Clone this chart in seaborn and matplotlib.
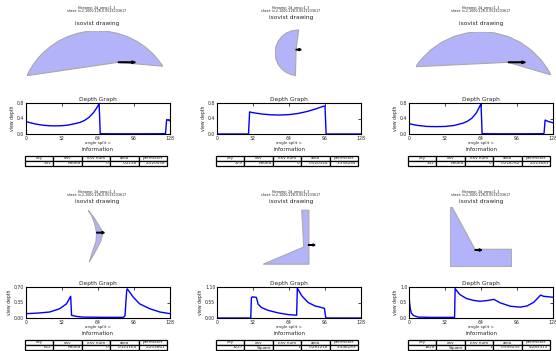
import matplotlib
matplotlib.use("Agg")
import matplotlib.pyplot as plt
import seaborn as sns
import pandas as pd

sns.set_style("white")
plt.rcParams["font.family"] = ["DejaVu Sans"]

W, H = 556, 351

# ---------------- data ----------------
header1 = "filename: 2d_area=1_3"
header2 = "sheet: iv-2-1000-128-0.0522233617"

table_cols = ["key", "env", "env num", "area", "perimeter"]
table_rows = [
    ["331", "Round", "0", "0.2138", "2.520558"],
    ["379", "Round", "0", "0.520324", "3.358284"],
    ["332", "Round", "0", "0.218762", "2.513681"],
    ["612", "Round", "0", "0.121164", "2.203861"],
    ["1227", "Square", "1", "0.281218", "2.548289"],
    ["1828", "Square", "1", "0.595235", "4.245313"],
]

xticks = [0, 32, 64, 96, 128]
yticks_list = [
    ["0.0", "0.4", "0.8"],
    ["0.0", "0.4", "0.8"],
    ["0.0", "0.4", "0.8"],
    ["0.00", "0.35", "0.70"],
    ["0.00", "0.55", "1.10"],
    ["0.0", "0.5", "1.0"],
]

depth1_x = [0, 4, 8, 12, 16, 20, 24, 28, 32, 36, 40, 44, 48, 52, 56, 60, 63, 65, 66, 80, 100, 124, 125, 128]
depth1_y = [0.32, 0.29, 0.26, 0.24, 0.225, 0.215, 0.21, 0.21, 0.215, 0.225, 0.245, 0.27, 0.30, 0.35, 0.43, 0.55, 0.68, 0.78, 0.008, 0.005, 0.005, 0.008, 0.37, 0.34]

depth2_x = [0, 28, 29, 32, 40, 48, 56, 64, 72, 80, 88, 95, 96, 97, 128]
depth2_y = [0.0, 0.0, 0.57, 0.55, 0.515, 0.495, 0.49, 0.50, 0.53, 0.58, 0.65, 0.72, 0.72, 0.0, 0.0]

depth3_x = [0, 4, 8, 16, 24, 32, 40, 48, 52, 56, 60, 63, 64, 65, 80, 100, 120, 121, 124, 128]
depth3_y = [0.27, 0.24, 0.22, 0.195, 0.19, 0.195, 0.22, 0.28, 0.33, 0.41, 0.55, 0.72, 0.78, 0.008, 0.005, 0.005, 0.008, 0.36, 0.32, 0.29]

depth4_x = [0, 10, 21, 30, 36, 39.7, 40.5, 45, 51, 70, 86.5, 88, 89.5, 90, 95.4, 101, 110, 119, 128]
depth4_y = [0.098, 0.11, 0.135, 0.21, 0.32, 0.49, 0.06, 0.035, 0.02, 0.015, 0.015, 0.05, 0.62, 0.66, 0.47, 0.32, 0.21, 0.135, 0.098]

depth5_x = [0, 30, 30.6, 31.5, 35, 36.6, 39.6, 45.5, 54.5, 63.4, 70.8, 71.4, 75.3, 81, 87, 93, 95.5, 96.7, 128]
depth5_y = [0.0, 0.0, 0.72, 0.75, 0.73, 0.49, 0.37, 0.27, 0.18, 0.12, 0.10, 1.06, 0.79, 0.55, 0.43, 0.37, 0.34, 0.0, 0.0]

depth6_x = [0, 1, 2, 4, 8, 20, 40.5, 41, 45, 51, 57, 63, 69, 75.6, 81, 90, 99, 105, 111, 117, 119.6, 128]
depth6_y = [0.70, 0.33, 0.16, 0.08, 0.03, 0.02, 0.02, 0.95, 0.76, 0.63, 0.57, 0.54, 0.56, 0.60, 0.49, 0.38, 0.35, 0.39, 0.51, 0.74, 0.70, 0.67]

depth_x = [depth1_x, depth2_x, depth3_x, depth4_x, depth5_x, depth6_x]
depth_y = [depth1_y, depth2_y, depth3_y, depth4_y, depth5_y, depth6_y]
ymax_list = [0.8, 0.8, 0.8, 0.70, 1.10, 1.0]

# isovist polygons: vertices relative to the viewpoint (y up)
iso1_x = [-91.4, -88.3, -84.6, -80.5, -75.9, -68.2, -59.75, -50.6, -41, -31, -20.8, -10.6, -0.6, 9, 18.15, 26.7, 34.3, 39.7, 44.5, 0]
iso1_y = [-13.4, -7.35, -1.6, 3.8, 8.8, 15.5, 21.2, 25.7, 28.9, 30.9, 31.6, 30.9, 28.9, 25.7, 21.2, 15.5, 8.8, 2.7, -3.9, 0]
iso2_x = [2.9, -4.55, -10.65, -15.9, -19.9, -22.4, -23.3, -22.4, -19.9, -15.9, -10.65, -4.55, -0.65, 0]
iso2_y = [21.8, 20.9, 18.4, 14.4, 9.15, 3.05, -3.5, -10.05, -16.15, -21.4, -25.4, -27.9, -28.7, 0]
iso3_x = [-92.6, -87.4, -77.7, -66.55, -54.2, -41.0, -27.4, -13.8, -0.6, 11.75, 22.9, 32.6, 39.0, 42.7, 0]
iso3_y = [-4.4, 2.6, 12.3, 20.1, 25.9, 29.4, 30.6, 29.4, 25.9, 20.1, 12.3, 2.6, -6.2, -12.7, 0]
iso4_x = [-9, -2.3, 2.7, 7, 4.4, -0.6, -8, -4, -0.6, 0, -2.3, -5.6]
iso4_y = [24, 15.6, 7.3, 0, -9.4, -19.4, -32, -19.4, -9.4, 0, 10.6, 19]
iso5_x = [-7.6, 0.5, 0.5, -51, -5.3]
iso5_y = [39.3, 39.3, -21.7, -21.7, -2.3]
iso6_x = [-25, -23, 0, 36.7, 36.7, -25]
iso6_y = [43.3, 43, 0.7, 0.7, -16.7, -16.7]
iso_x = [iso1_x, iso2_x, iso3_x, iso4_x, iso5_x, iso6_x]
iso_y = [iso1_y, iso2_y, iso3_y, iso4_y, iso5_y, iso6_y]
arrow_len = [17, 5.7, 17, 8.4, 7.4, 6.7]

# ---------------- layout (pixels) ----------------
col_left = [26, 217, 409]
col_center = [97, 291, 481]
row_off = [0, 184]
iso_rect = [  # l, t, r, b
    (26.9, 30.7, 162.8, 75.7), (275.0, 27.5, 301.2, 78.0), (415.7, 31.7, 551, 75),
    (88.3, 208.3, 104.3, 264.3), (263.3, 206.7, 315, 267.7), (450, 206.7, 511.7, 266.7),
]
iso_title_y = [23, 18, 23, 202, 202, 202]


def px_rect(l, t, r, b):
    return [l / W, 1 - b / H, (r - l) / W, (b - t) / H]


fig = plt.figure(figsize=(W / 100, H / 100), dpi=100)

for i in range(6):
    r, c = divmod(i, 3)
    off = row_off[r]
    cx = col_center[c]
    left = col_left[c]

    # headers
    fig.text(cx / W, 1 - (7 + off) / H, header1, ha="center", va="center", fontsize=2.3)
    fig.text(cx / W, 1 - (11 + off) / H, header2, ha="center", va="center", fontsize=2.3)
    fig.text(cx / W, 1 - iso_title_y[i] / H, "isovist drawing", ha="center", va="center", fontsize=4.2)

    # isovist drawing
    l, t, rr, b = iso_rect[i]
    ia = fig.add_axes(px_rect(l, t, rr, b))
    ia.fill(iso_x[i], iso_y[i], facecolor="#b3b3fa", edgecolor="#a8a8a8", lw=0.8)
    ia.set_aspect("equal", adjustable="datalim")
    ia.margins(0)
    L = arrow_len[i]
    hl = 3.5 if L > 10 else 2.5
    hw = 2.6 if L > 10 else 2.4
    ia.arrow(0, 0, L, 0, width=0.6, head_width=hw, head_length=hl,
             length_includes_head=True, color="black", zorder=5, clip_on=False)
    ia.axis("off")

    # depth graph
    ax = fig.add_axes(px_rect(left, 103 + off, left + 144, 134 + off))
    df = pd.DataFrame({"angle": depth_x[i], "depth": depth_y[i]})
    sns.lineplot(data=df, x="angle", y="depth", ax=ax, color="blue", lw=1)
    ax.set_xlim(0, 128)
    ymax = ymax_list[i]
    ax.set_ylim(0, ymax)
    ax.set_xticks(xticks)
    ax.set_xticklabels([str(v) for v in xticks])
    ax.set_yticks([0, ymax / 2, ymax])
    ax.set_yticklabels(yticks_list[i])
    ax.tick_params(direction="in", top=True, right=True, labelsize=3.3,
                   length=2, width=0.6, pad=1.2)
    for s in ax.spines.values():
        s.set_linewidth(0.8)
        s.set_color("black")
    ax.set_title("Depth Graph", fontsize=4.2, pad=1.5)
    ax.set_xlabel("")
    fig.text((left + 72) / W, 1 - (142.8 + off) / H, "angle split =",
             ha="center", va="center", fontsize=3.0)
    ax.set_ylabel("view depth", fontsize=3.3, labelpad=1.5)

    # information table
    fig.text((left + 72) / W, 1 - (149.5 + off) / H, "information",
             ha="center", va="center", fontsize=4.0)
    ta = fig.add_axes(px_rect(left - 1, 156 + off, left + 141, 166 + off))
    ta.axis("off")
    tbl = ta.table(cellText=[table_rows[i]], colLabels=table_cols, bbox=[0, 0, 1, 1])
    tbl.auto_set_font_size(False)
    tbl.set_fontsize(3)
    for cell in tbl.get_celld().values():
        cell.set_linewidth(0.9)
        cell.PAD = 0.05

fig.savefig("out.png", dpi=100)
